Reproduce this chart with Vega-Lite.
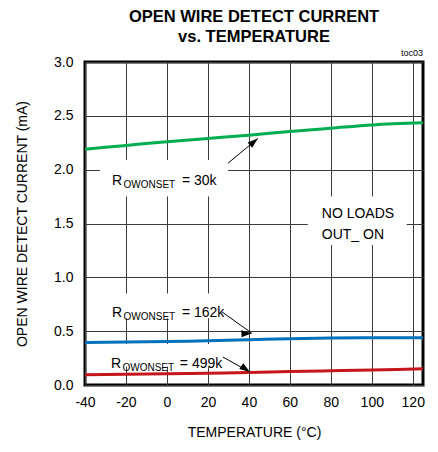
{
  "$schema": "https://vega.github.io/schema/vega-lite/v6.json",
  "autosize": "none",
  "width": 338,
  "height": 323,
  "padding": {"left": 85, "top": 62, "right": 15, "bottom": 67},
  "background": "white",
  "config": {
    "font": "Liberation Sans",
    "view": {"stroke": "black", "strokeWidth": 3},
    "axis": {
      "grid": true, "gridColor": "#3a3a3a", "gridWidth": 1, "gridOpacity": 1,
      "domain": false, "ticks": false,
      "labelFont": "Liberation Sans", "labelFontSize": 14, "labelColor": "black",
      "titleFont": "Liberation Sans", "titleFontSize": 14, "titleFontWeight": "normal", "titleColor": "black"
    }
  },
  "title": {
    "text": ["OPEN WIRE DETECT CURRENT", "vs. TEMPERATURE"],
    "font": "Liberation Sans", "fontSize": 16.5, "fontWeight": "bold",
    "lineHeight": 20, "anchor": "middle", "offset": 4, "color": "black"
  },
  "datasets": {
    "curves": [
      {"series": "30k", "temp": -40, "current": 2.19},
      {"series": "30k", "temp": -20, "current": 2.225},
      {"series": "30k", "temp": 0, "current": 2.26},
      {"series": "30k", "temp": 20, "current": 2.29},
      {"series": "30k", "temp": 40, "current": 2.32},
      {"series": "30k", "temp": 60, "current": 2.355},
      {"series": "30k", "temp": 80, "current": 2.385},
      {"series": "30k", "temp": 100, "current": 2.415},
      {"series": "30k", "temp": 125, "current": 2.435},
      {"series": "162k", "temp": -40, "current": 0.395},
      {"series": "162k", "temp": -20, "current": 0.40},
      {"series": "162k", "temp": 0, "current": 0.405},
      {"series": "162k", "temp": 20, "current": 0.41},
      {"series": "162k", "temp": 40, "current": 0.42},
      {"series": "162k", "temp": 60, "current": 0.43},
      {"series": "162k", "temp": 80, "current": 0.437},
      {"series": "162k", "temp": 100, "current": 0.44},
      {"series": "162k", "temp": 125, "current": 0.44},
      {"series": "499k", "temp": -40, "current": 0.095},
      {"series": "499k", "temp": -20, "current": 0.10},
      {"series": "499k", "temp": 0, "current": 0.105},
      {"series": "499k", "temp": 20, "current": 0.11},
      {"series": "499k", "temp": 40, "current": 0.115},
      {"series": "499k", "temp": 60, "current": 0.125},
      {"series": "499k", "temp": 80, "current": 0.132},
      {"series": "499k", "temp": 100, "current": 0.14},
      {"series": "499k", "temp": 125, "current": 0.15}
    ],
    "boxes": [
      {"name": "30k", "x": -32.7, "x2": 29.8, "y": 1.75, "y2": 2.09},
      {"name": "noload", "x": 68.8, "x2": 117, "y": 1.30, "y2": 1.75},
      {"name": "162k", "x": -27.8, "x2": 26.8, "y": 0.62, "y2": 0.85},
      {"name": "499k", "x": -27.8, "x2": 26.8, "y": 0.17, "y2": 0.38}
    ],
    "arrows": [
      {"name": "30k", "x": 29.8, "y": 2.06, "x2": 44.4, "y2": 2.29},
      {"name": "162k", "x": 26.8, "y": 0.68, "x2": 41.5, "y2": 0.48},
      {"name": "499k", "x": 27.3, "y": 0.26, "x2": 40.5, "y2": 0.12}
    ],
    "mainText": [
      {"x": -26.8, "y": 1.857, "text": "R"},
      {"x": 7.3, "y": 1.857, "text": "= 30k"},
      {"x": -26.8, "y": 0.631, "text": "R"},
      {"x": 7.3, "y": 0.631, "text": "= 162k"},
      {"x": -27.3, "y": 0.158, "text": "R"},
      {"x": 6.3, "y": 0.158, "text": "= 499k"},
      {"x": 75.6, "y": 1.55, "text": "NO LOADS"},
      {"x": 75.6, "y": 1.356, "text": "OUT_ ON"}
    ],
    "subText": [
      {"x": -21.2, "y": 1.83, "text": "OWONSET"},
      {"x": -21.2, "y": 0.608, "text": "OWONSET"},
      {"x": -21.7, "y": 0.13, "text": "OWONSET"}
    ]
  },
  "layer": [
    {
      "data": {"name": "boxes"},
      "mark": {"type": "rect", "fill": "white", "stroke": null},
      "encoding": {
        "x": {"field": "x", "type": "quantitative", "scale": {"domain": [-40, 125], "nice": false, "zero": false},
          "axis": {"values": [-40, -20, 0, 20, 40, 60, 80, 100, 120], "labelExpr": "'' + datum.value", "title": "TEMPERATURE (°C)", "labelPadding": 10, "titlePadding": 16, "labelFlush": false}},
        "x2": {"field": "x2"},
        "y": {"field": "y", "type": "quantitative", "scale": {"domain": [0, 3], "nice": false},
          "axis": {"values": [0, 0.5, 1, 1.5, 2, 2.5, 3], "format": ".1f", "title": "OPEN WIRE DETECT CURRENT (mA)", "labelPadding": 12, "titlePadding": 24}},
        "y2": {"field": "y2"}
      }
    },
    {
      "data": {"name": "curves"},
      "mark": {"type": "line", "strokeWidth": 3, "interpolate": "monotone"},
      "encoding": {
        "x": {"field": "temp", "type": "quantitative"},
        "y": {"field": "current", "type": "quantitative"},
        "color": {"field": "series", "type": "nominal", "legend": null,
          "scale": {"domain": ["30k", "162k", "499k"], "range": ["#00ad50", "#0072bc", "#c4161c"]}}
      }
    },
    {
      "data": {"name": "arrows"},
      "mark": {"type": "rule", "color": "black", "strokeWidth": 1},
      "encoding": {
        "x": {"field": "x", "type": "quantitative"},
        "y": {"field": "y", "type": "quantitative"},
        "x2": {"field": "x2"},
        "y2": {"field": "y2"}
      }
    },
    {
      "data": {"name": "arrows"},
      "mark": {"type": "point", "shape": "M0,0L0.7,2.1L-0.7,2.1Z", "filled": true, "color": "black", "opacity": 1, "size": 100},
      "encoding": {
        "x": {"field": "x2", "type": "quantitative"},
        "y": {"field": "y2", "type": "quantitative"},
        "angle": {"field": "name", "type": "nominal", "scale": {"domain": ["30k", "162k", "499k"], "range": [50, 125, 119]}, "legend": null}
      }
    },
    {
      "data": {"name": "mainText"},
      "mark": {"type": "text", "align": "left", "baseline": "alphabetic", "fontSize": 14, "font": "Liberation Sans", "color": "black"},
      "encoding": {
        "x": {"field": "x", "type": "quantitative"},
        "y": {"field": "y", "type": "quantitative"},
        "text": {"field": "text"}
      }
    },
    {
      "data": {"name": "subText"},
      "mark": {"type": "text", "align": "left", "baseline": "alphabetic", "fontSize": 10, "font": "Liberation Sans", "color": "black"},
      "encoding": {
        "x": {"field": "x", "type": "quantitative"},
        "y": {"field": "y", "type": "quantitative"},
        "text": {"field": "text"}
      }
    },
    {
      "data": {"values": [{"x": 125, "y": 3, "text": "toc03"}]},
      "mark": {"type": "text", "align": "right", "baseline": "bottom", "dy": -4, "fontSize": 9, "font": "Liberation Sans", "color": "black"},
      "encoding": {
        "x": {"field": "x", "type": "quantitative"},
        "y": {"field": "y", "type": "quantitative"},
        "text": {"field": "text"}
      }
    }
  ]
}
